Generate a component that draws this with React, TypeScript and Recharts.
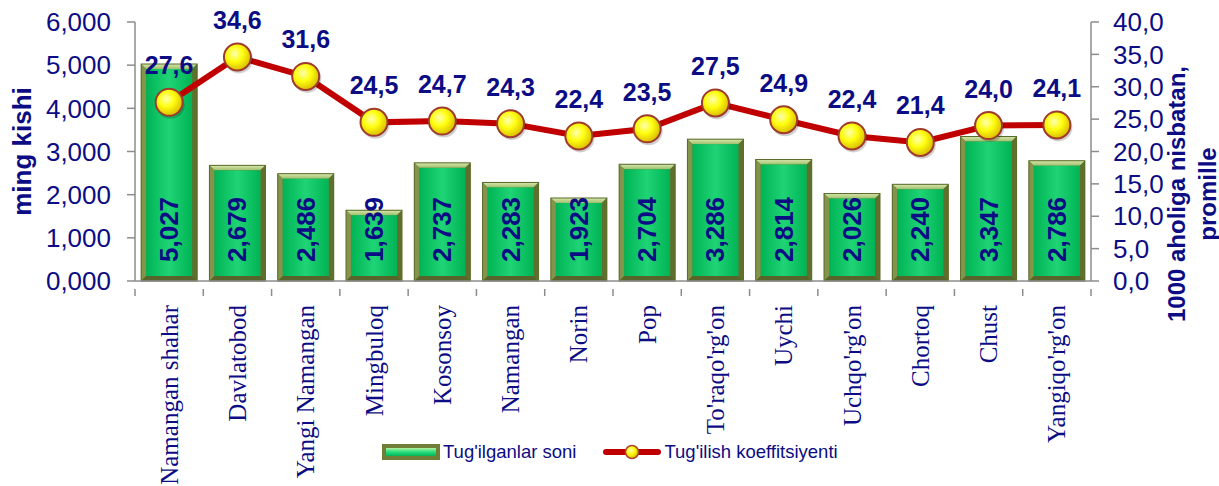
import React from 'react';
import { ComposedChart, Bar, Line, XAxis, YAxis, LabelList } from 'recharts';

const categories = [
  'Namangan shahar', 'Davlatobod', 'Yangi Namangan', 'Mingbuloq', 'Kosonsoy', 'Namangan', 'Norin',
  'Pop', "To'raqo'rg'on", 'Uychi', "Uchqo'rg'on", 'Chortoq', 'Chust', "Yangiqo'rg'on",
];
const births = [5.027, 2.679, 2.486, 1.639, 2.737, 2.283, 1.923, 2.704, 3.286, 2.814, 2.026, 2.240, 3.347, 2.786];
const rate = [27.6, 34.6, 31.6, 24.5, 24.7, 24.3, 22.4, 23.5, 27.5, 24.9, 22.4, 21.4, 24.0, 24.1];
const leftTicks = [0, 1, 2, 3, 4, 5, 6];
const rightTicks = [0, 5, 10, 15, 20, 25, 30, 35, 40];
const seriesNames = ["Tug'ilganlar soni", "Tug'ilish koeffitsiyenti"];
const leftTitle = 'ming kishi';
const rightTitle = ['1000 aholiga nisbatan,', 'promille'];

const data = categories.map((name, i) => ({ name, births: births[i], rate: rate[i] }));

const W = 1219;
const H = 486;
const LEFT_W = 135;
const RIGHT_W = 128;
const X_H = 205;
const TOP = 22;
const STEP = (W - LEFT_W - RIGHT_W) / categories.length;
const NAVY = '#0c0c84';
const GREY = '#8c8c8c';
const SANS = '"Liberation Sans", Arial, sans-serif';
const SERIF = '"Liberation Serif", "Times New Roman", serif';

const fmt3 = (v: number) => v.toFixed(3).replace('.', ',');
const fmt1 = (v: number) => v.toFixed(1).replace('.', ',');

const BarShape = (p: any) => {
  const { x, y, width, height } = p;
  if (!height || height <= 0) return null;
  const b = 5;
  const x2 = x + width;
  const y2 = y + height;
  return (
    <g>
      <defs>
        <linearGradient id="gInner" x1="0" y1="0" x2="1" y2="0">
          <stop offset="0%" stopColor="#00b455" />
          <stop offset="50%" stopColor="#1fd474" />
          <stop offset="100%" stopColor="#00b455" />
        </linearGradient>
        <linearGradient id="gTop" x1="0" y1="0" x2="0" y2="1">
          <stop offset="0%" stopColor="#d8e8b0" />
          <stop offset="100%" stopColor="#9fbf6a" />
        </linearGradient>
      </defs>
      <rect x={x} y={y} width={width} height={height} fill="#6f7f38" />
      <polygon points={`${x},${y} ${x2},${y} ${x2 - b},${y + b} ${x + b},${y + b}`} fill="url(#gTop)" />
      <polygon points={`${x},${y} ${x + b},${y + b} ${x + b},${y2 - b} ${x},${y2}`} fill="#84944a" />
      <polygon points={`${x2},${y} ${x2},${y2} ${x2 - b},${y2 - b} ${x2 - b},${y + b}`} fill="#5f6f2c" />
      <polygon points={`${x},${y2} ${x + b},${y2 - b} ${x2 - b},${y2 - b} ${x2},${y2}`} fill="#56662a" />
      <rect x={x + b} y={y + b} width={width - 2 * b} height={height - 2 * b} fill="url(#gInner)" />
      <rect x={x} y={y} width={width} height={height} fill="none" stroke="#5a6a28" strokeWidth={1} />
    </g>
  );
};

const Dot = (p: any) => {
  const { cx, cy, index } = p;
  if (cx == null || cy == null) return null;
  return (
    <g key={`d${index}`}>
      <defs>
        <radialGradient id="gDot" cx="40%" cy="38%" r="65%">
          <stop offset="0%" stopColor="#ffffb0" />
          <stop offset="45%" stopColor="#ffff10" />
          <stop offset="100%" stopColor="#d8b800" />
        </radialGradient>
      </defs>
      <circle cx={cx + 1.5} cy={cy + 2.5} r={14} fill="#000" opacity={0.18} />
      <circle cx={cx} cy={cy} r={13.5} fill="url(#gDot)" stroke="#9e3a2e" strokeWidth={2} />
    </g>
  );
};

const BarLabel = (p: any) => {
  const { x, y, width, height, value } = p;
  const cx = x + width / 2;
  const by = y + height - 19;
  return (
    <text
      x={cx}
      y={by}
      transform={`rotate(-90 ${cx} ${by})`}
      textAnchor="start"
      dominantBaseline="central"
      fill={NAVY}
      fontFamily={SANS}
      fontWeight="bold"
      fontSize={26}
    >
      {fmt3(Number(value))}
    </text>
  );
};

const LineLabel = (p: any) => {
  const { x, y, value } = p;
  return (
    <text
      x={x}
      y={y - 37}
      textAnchor="middle"
      dominantBaseline="central"
      fill={NAVY}
      fontFamily={SANS}
      fontWeight="bold"
      fontSize={25}
    >
      {fmt1(Number(value))}
    </text>
  );
};

const XTick = (p: any) => {
  const { x, y, payload, index } = p;
  const ty = y + 16;
  return (
    <g>
      <line x1={x - STEP / 2} y1={y} x2={x - STEP / 2} y2={y + 7} stroke={GREY} strokeWidth={1.5} />
      {index === categories.length - 1 && (
        <line x1={x + STEP / 2} y1={y} x2={x + STEP / 2} y2={y + 7} stroke={GREY} strokeWidth={1.5} />
      )}
      <text
        x={x}
        y={ty}
        transform={`rotate(-90 ${x} ${ty})`}
        textAnchor="end"
        dominantBaseline="central"
        fill={NAVY}
        fontFamily={SERIF}
        fontSize={25}
      >
        {payload.value}
      </text>
    </g>
  );
};

const LeftTitle = (p: any) => {
  const vb = p.viewBox || {};
  const cx = 22;
  const cy = vb.y + vb.height / 2;
  return (
    <text
      x={cx}
      y={cy}
      transform={`rotate(-90 ${cx} ${cy})`}
      textAnchor="middle"
      dominantBaseline="central"
      fill={NAVY}
      fontFamily={SANS}
      fontWeight="bold"
      fontSize={26}
    >
      {leftTitle}
    </text>
  );
};

const RightTitle = () => {
  const cy = 194;
  const xs = [1176, 1207];
  return (
    <g>
      {rightTitle.map((t, i) => {
        const cx = xs[i];
        return (
          <text
            key={t}
            x={cx}
            y={cy}
            transform={`rotate(-90 ${cx} ${cy})`}
            textAnchor="middle"
            dominantBaseline="central"
            fill={NAVY}
            fontFamily={SANS}
            fontWeight="bold"
            fontSize={24}
          >
            {t}
          </text>
        );
      })}
    </g>
  );
};

const LegendBox = () => (
  <div
    style={{
      position: 'absolute',
      left: 382,
      top: 441,
      display: 'flex',
      alignItems: 'center',
      fontFamily: SANS,
      fontSize: 18.5,
      color: NAVY,
      whiteSpace: 'nowrap',
    }}
  >
    <svg width={58} height={16} style={{ display: 'block' }}>
      <defs>
        <linearGradient id="gLeg" x1="0" y1="0" x2="0" y2="1">
          <stop offset="0%" stopColor="#b6f0a0" />
          <stop offset="45%" stopColor="#30e080" />
          <stop offset="100%" stopColor="#00b455" />
        </linearGradient>
      </defs>
      <rect x={0} y={0} width={58} height={16} fill="#6f7f38" />
      <rect x={4} y={4} width={50} height={8} fill="url(#gLeg)" />
    </svg>
    <span style={{ marginLeft: 3 }}>{seriesNames[0]}</span>
    <svg width={58} height={16} style={{ display: 'block', marginLeft: 27 }}>
      <defs>
        <radialGradient id="gLegDot" cx="40%" cy="38%" r="65%">
          <stop offset="0%" stopColor="#ffffb0" />
          <stop offset="45%" stopColor="#ffff10" />
          <stop offset="100%" stopColor="#d8b800" />
        </radialGradient>
      </defs>
      <line x1={3} y1={8} x2={55} y2={8} stroke="#c00000" strokeWidth={6} strokeLinecap="round" />
      <circle cx={29} cy={8} r={6.5} fill="url(#gLegDot)" stroke="#a8442e" strokeWidth={1.5} />
    </svg>
    <span style={{ marginLeft: 3 }}>{seriesNames[1]}</span>
  </div>
);

export default function App() {
  return (
    <div style={{ position: 'absolute', left: 0, top: 0, width: W, height: H, background: '#fff' }}>
      <ComposedChart
        width={W}
        height={H}
        data={data}
        margin={{ top: TOP, right: 0, bottom: 0, left: 0 }}
        barCategoryGap="9%"
      >
        <XAxis
          dataKey="name"
          xAxisId={0}
          height={X_H}
          interval={0}
          tickLine={false}
          axisLine={{ stroke: GREY, strokeWidth: 1.5 }}
          tick={<XTick />}
        />
        <YAxis
          yAxisId="left"
          orientation="left"
          width={LEFT_W}
          domain={[0, 6]}
          ticks={leftTicks}
          interval={0}
          tickFormatter={fmt3}
          tickSize={8}
          tickMargin={16}
          axisLine={{ stroke: GREY, strokeWidth: 1.5 }}
          tickLine={{ stroke: GREY, strokeWidth: 1.5 }}
          tick={{ fill: NAVY, fontFamily: SANS, fontSize: 26 }}
          label={<LeftTitle />}
        />
        <YAxis
          yAxisId="right"
          orientation="right"
          width={RIGHT_W}
          domain={[0, 40]}
          ticks={rightTicks}
          interval={0}
          tickFormatter={fmt1}
          tickSize={8}
          tickMargin={14}
          axisLine={{ stroke: GREY, strokeWidth: 1.5 }}
          tickLine={{ stroke: GREY, strokeWidth: 1.5 }}
          tick={{ fill: NAVY, fontFamily: SANS, fontSize: 26 }}
          label={<RightTitle />}
        />
        <Bar dataKey="births" yAxisId="left" shape={<BarShape />} isAnimationActive={false}>
          <LabelList dataKey="births" content={<BarLabel />} />
        </Bar>
        <Line
          dataKey="rate"
          yAxisId="right"
          type="linear"
          stroke="#c00000"
          strokeWidth={6}
          dot={<Dot />}
          activeDot={false}
          isAnimationActive={false}
        >
          <LabelList dataKey="rate" content={<LineLabel />} />
        </Line>
      </ComposedChart>
      <LegendBox />
    </div>
  );
}
